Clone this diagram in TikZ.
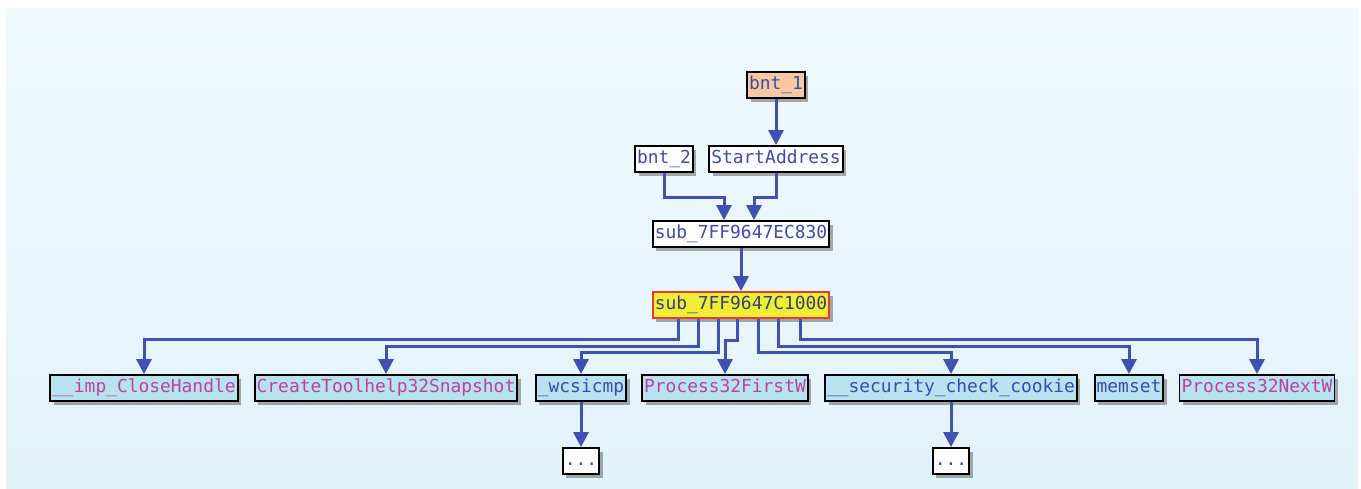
\documentclass[tikz,border=0pt]{standalone}
\usepackage{fontspec}
\setmonofont{DejaVu Sans Mono}
\usepackage{xcolor}
\usepackage{tikz}
\usetikzlibrary{arrows.meta,calc,positioning,shadows}
\definecolor{idapaneltop}{HTML}{F1F9FD}
\definecolor{idapanelbot}{HTML}{E2F2FA}
\definecolor{idaedge}{HTML}{3F51B5}
\definecolor{idaname}{HTML}{3C4BB0}
\definecolor{idaimport}{HTML}{C2409C}
\definecolor{idacyan}{HTML}{B6E3EF}
\definecolor{idaorange}{HTML}{F7C9A3}
\definecolor{idayellow}{HTML}{F0EE34}
\definecolor{idared}{HTML}{E8392E}
\definecolor{idadark}{HTML}{34407A}

\begin{document}
\begin{tikzpicture}[
    x=1pt,
    y=-1pt,
    func/.style={draw=black, line width=1.8pt, fill=white, text=idaname,
      font=\ttfamily\fontsize{17.9}{20}\selectfont,
      inner xsep=2pt, inner ysep=5pt, text height=12pt, text depth=4pt,
      drop shadow={shadow xshift=3.5pt, shadow yshift=-3.5pt, fill=black!60, opacity=0.55}},
    imp/.style={func, fill=idacyan, text=idaimport},
    lib/.style={func, fill=idacyan},
    edge/.style={-{Triangle[length=15pt,width=15pt]}, line width=3pt, draw=idaedge}
  ]
    \useasboundingbox (0,0) rectangle (1361,488);
    \shade[top color=idapaneltop, bottom color=idapanelbot] (6,8) rectangle (1358,488);

    % 1. Callers
    \node[func, fill=idaorange] (N-bnt1) at (776,85) {bnt\_1};
    \node[func] (N-start) at (776,159) {StartAddress};
    \node[func] (N-bnt2) at (664,159) {bnt\_2};
    \node[func] (N-sub830) at (741,234) {sub\_7FF9647EC830};
    \node[func, fill=idayellow, draw=idared, text=idadark] (N-sub1000) at (741,305) {sub\_7FF9647C1000};

    % 2. Callees
    \node[imp] (N-close) at (144,388) {\_\_imp\_CloseHandle};
    \node[imp] (N-snap) at (386,388) {CreateToolhelp32Snapshot};
    \node[lib] (N-wcs) at (581,388) {\_wcsicmp};
    \node[imp] (N-first) at (725,388) {Process32FirstW};
    \node[lib] (N-cookie) at (951,388) {\_\_security\_check\_cookie};
    \node[lib] (N-memset) at (1129,388) {memset};
    \node[imp] (N-next) at (1257,388) {Process32NextW};

    % 3. Collapsed children
    \node[func] (N-more1) at (581,461) {...};
    \node[func] (N-more2) at (951,461) {...};

    \draw[edge] (N-bnt1) -- (N-start);
    \draw[edge] (N-bnt2.south) -- ++(0,25) -| ([xshift=-17pt]N-sub830.north);
    \draw[edge] (N-start.south) -- ++(0,25) -| ([xshift=13pt]N-sub830.north);
    \draw[edge] (N-sub830) -- (N-sub1000);

    \draw[edge] ([xshift=-63pt]N-sub1000.south) -- ++(0,21) -| (N-close);
    \draw[edge] ([xshift=-43pt]N-sub1000.south) -- ++(0,28) -| (N-snap);
    \draw[edge] ([xshift=-23pt]N-sub1000.south) -- ++(0,34) -| (N-wcs);
    \draw[edge] ([xshift=-4pt]N-sub1000.south) -- ++(0,22) -| (N-first);
    \draw[edge] ([xshift=17pt]N-sub1000.south) -- ++(0,34) -| (N-cookie);
    \draw[edge] ([xshift=37pt]N-sub1000.south) -- ++(0,28) -| (N-memset);
    \draw[edge] ([xshift=59pt]N-sub1000.south) -- ++(0,21) -| (N-next);

    \draw[edge] (N-wcs) -- (N-more1);
    \draw[edge] (N-cookie) -- (N-more2);

  \end{tikzpicture}
\end{document}
